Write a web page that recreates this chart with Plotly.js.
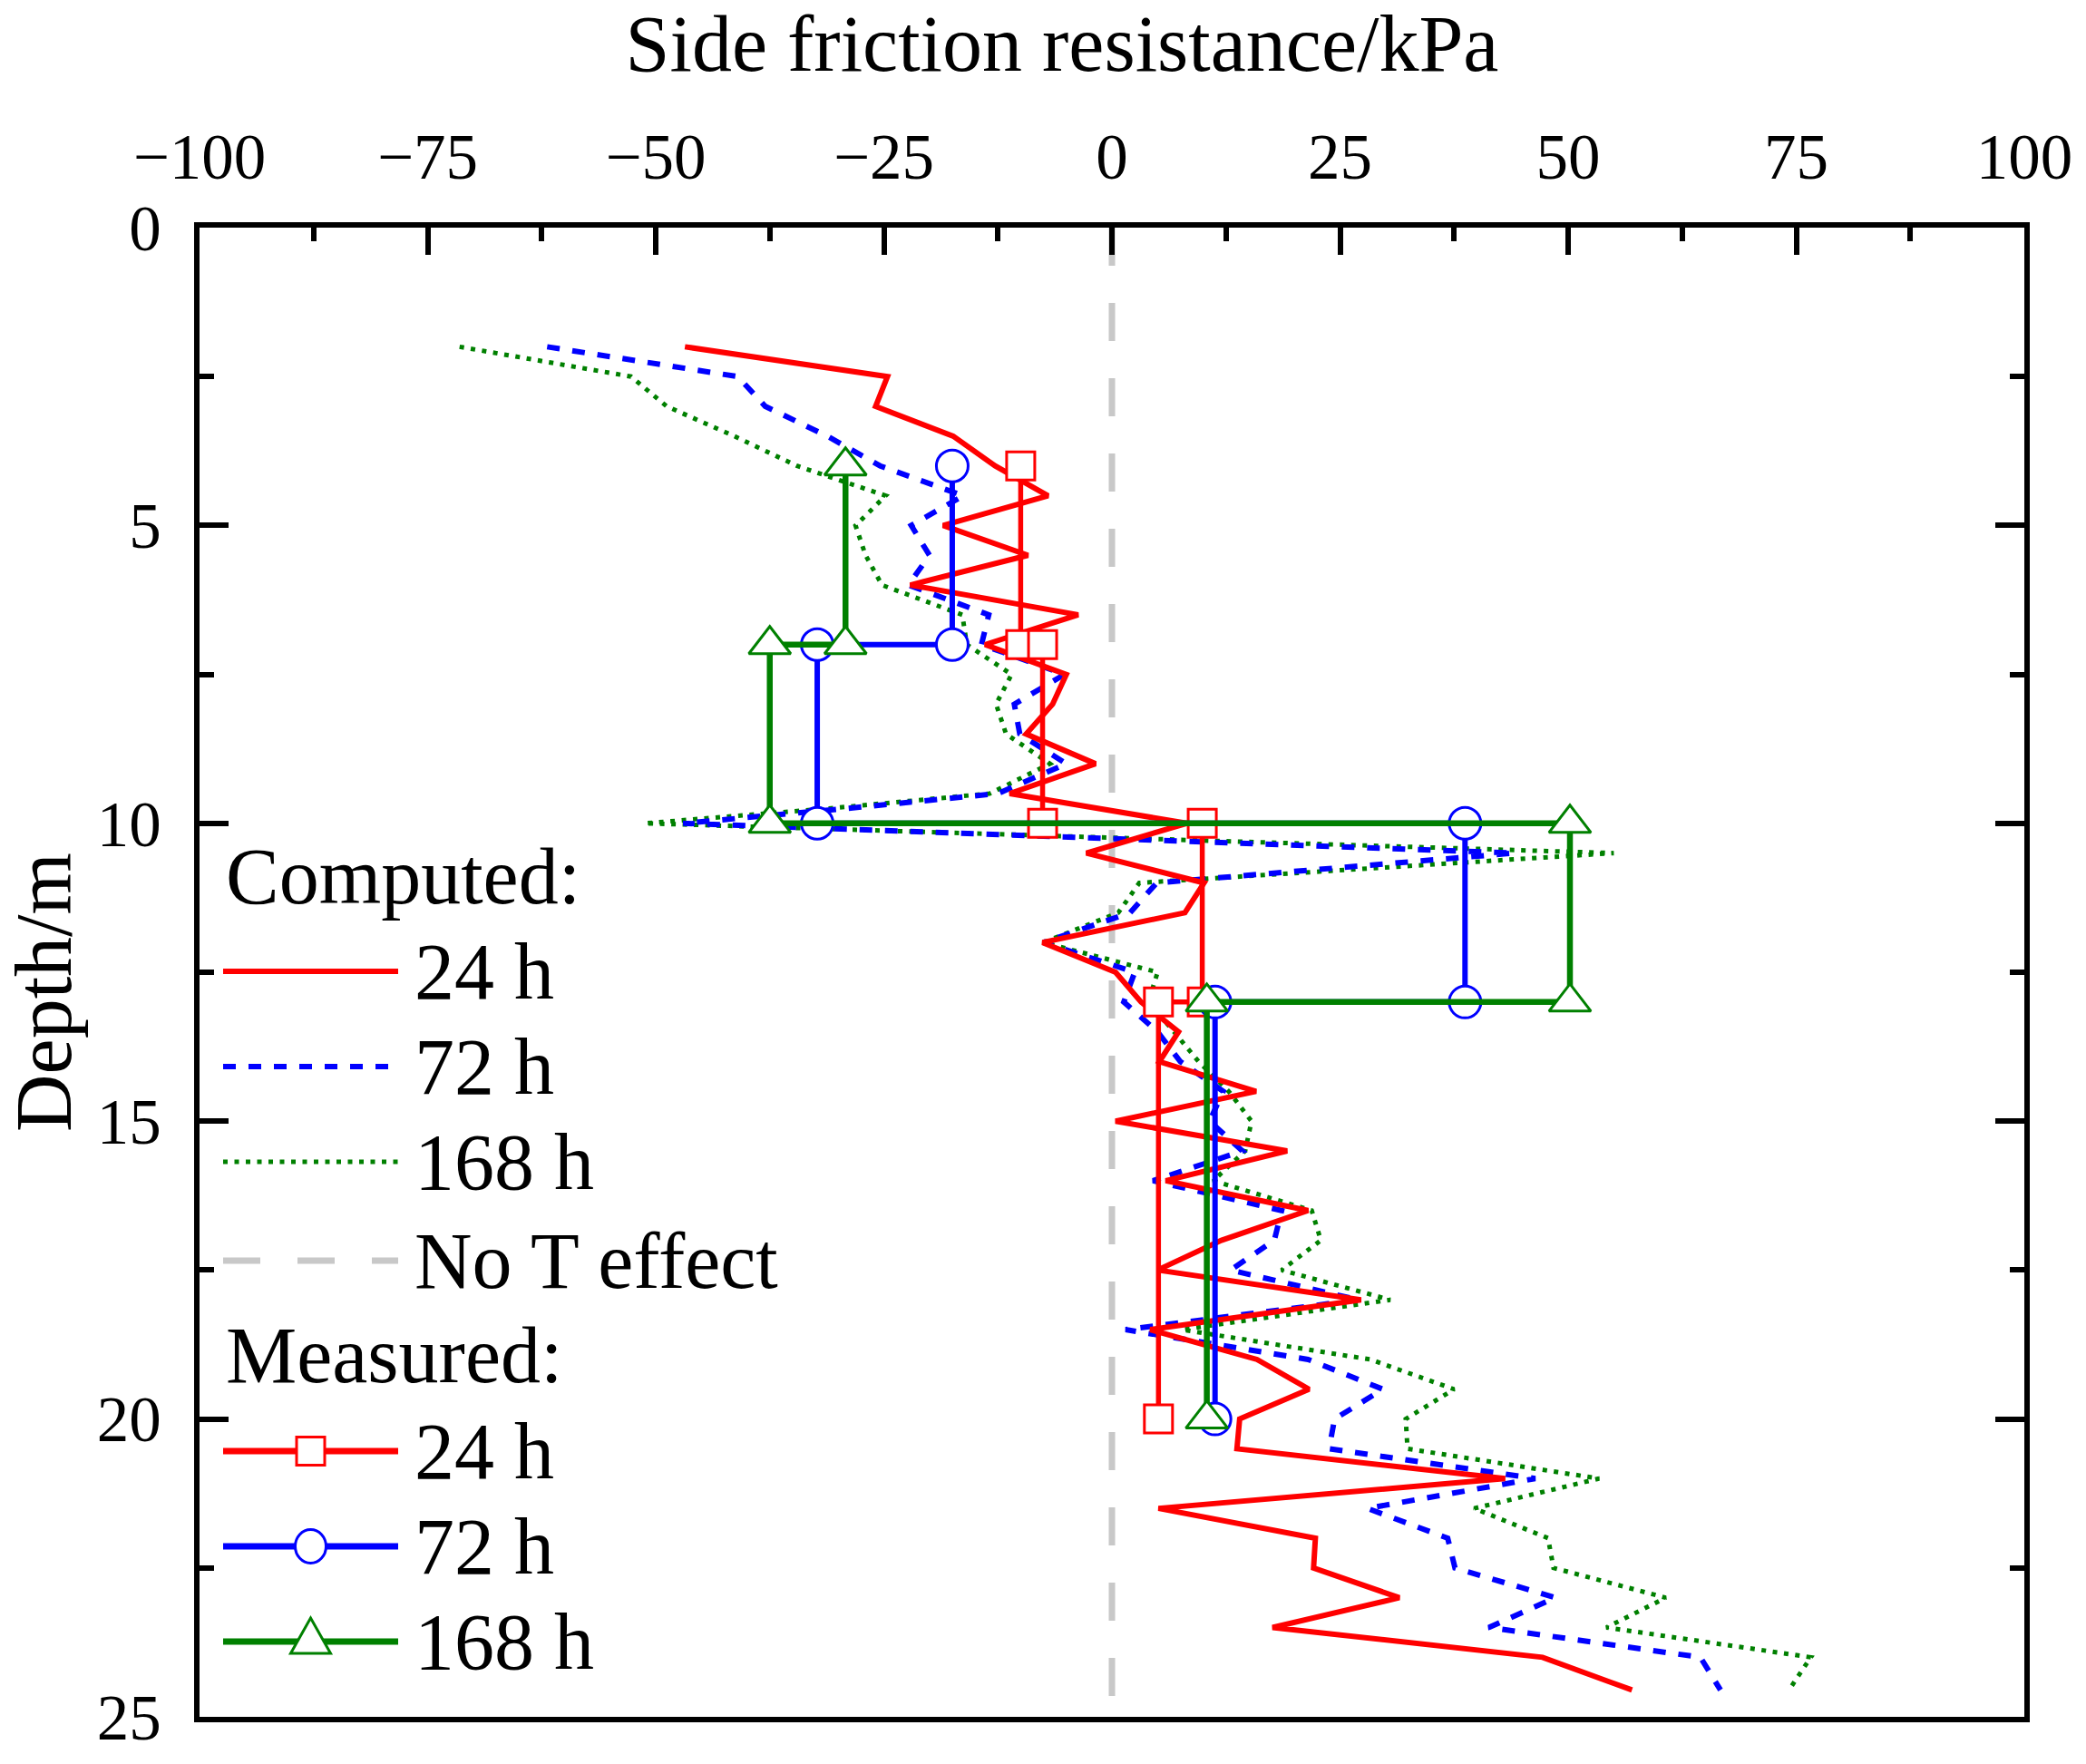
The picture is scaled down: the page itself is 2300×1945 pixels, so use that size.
<!DOCTYPE html>
<html>
<head>
<meta charset="utf-8">
<script src="https://cdn.plot.ly/plotly-3.0.1.min.js"></script>
<style>html,body{margin:0;padding:0;background:#fff;}</style>
</head>
<body>
<div id="chart" style="width:2300px;height:1945px;"></div>
<script>
// ---- Data ----
// Computed 24 h
var depthC24 = [2.0,2.5,3.0,3.5,4.0,4.5,5.0,5.5,6.0,6.5,7.0,7.5,8.0,8.5,9.0,9.5,10.0,10.5,11.0,11.5,12.0,12.5,13.0,13.5,14.0,14.5,15.0,15.5,16.0,16.5,17.0,17.5,18.0,18.5,19.0,19.5,20.0,20.5,21.0,21.5,22.0,22.5,23.0,23.5,24.0,24.55];
var comp24 = [-46.8,-24.6,-25.9,-17.4,-12.8,-7.0,-18.5,-9.2,-22.1,-3.7,-13.9,-5.0,-6.5,-9.4,-1.8,-11.2,8.2,-2.8,10.1,8.0,-7.6,0.4,3.2,7.3,5.2,15.8,0.4,19.2,5.9,21.5,12.0,5.0,27.3,4.2,15.9,21.6,14.0,13.7,43.1,5.1,22.3,22.1,31.5,17.6,47.2,57.0];
// Computed 72 h and 168 h
var depthC = [2.0,2.5,3.0,3.5,4.0,4.5,5.0,5.5,6.0,6.5,7.0,7.5,8.0,8.5,9.0,9.5,9.75,10.0,10.5,11.0,11.5,12.0,12.5,13.0,13.5,14.0,14.5,15.0,15.5,16.0,16.5,17.0,17.5,18.0,18.5,19.0,19.5,20.0,20.5,21.0,21.5,22.0,22.5,23.0,23.5,24.0,24.55];
var comp72 = [-61.9,-41.0,-38.0,-31.2,-25.4,-16.3,-22.0,-20.0,-22.3,-13.5,-14.3,-5.2,-10.7,-10.1,-5.0,-12.5,-29.0,-47.0,44.1,4.9,2.0,-7.5,2.5,1.3,5.0,7.5,12.2,10.7,14.3,4.5,18.6,17.8,13.0,27.0,1.5,21.5,29.7,24.4,23.8,46.4,28.0,36.8,37.6,48.6,41.3,64.5,66.7];
var comp168 = [-71.5,-52.7,-48.8,-41.4,-34.5,-24.8,-28.1,-27.0,-25.2,-16.4,-15.9,-11.0,-12.7,-11.6,-6.8,-13.4,-31.0,-51.2,55.0,3.0,0.7,-7.5,5.0,4.0,6.8,9.5,12.8,15.3,14.6,11.1,21.9,22.9,18.6,30.5,7.7,28.3,37.5,32.2,32.4,53.4,39.7,47.8,48.4,60.7,54.2,76.6,74.2];
// No temperature effect reference line
var noTx = [0, 0];
var noTy = [0, 25];
// Measured
var depthM = [4, 7, 7, 10, 10, 13, 13, 20];
var meas24 = [-10.0,-10.0,-7.6,-7.6,9.9,9.9,5.1,5.1];
var meas72 = [-17.5,-17.5,-32.3,-32.3,38.7,38.7,11.3,11.3];
var meas168 = [-29.2,-29.2,-37.5,-37.5,50.2,50.2,10.4,10.4];
// Axis ticks
var xTicks = [-100,-75,-50,-25,0,25,50,75,100];
var yTicks = [0,5,10,15,20,25];
// Legend labels
var legendHeads = ['Computed:', 'Measured:'];
var legendNames = ['24 h','72 h','168 h','No T effect','24 h','72 h','168 h'];

var FONT = 'Liberation Serif, Times New Roman, serif';
var RED = '#ff0000', BLUE = '#0000ff', GREEN = '#008000', GRAY = '#c8c8c8';

var traces = [
  {x: noTx, y: noTy, mode: 'lines', line: {color: GRAY, width: 7, dash: '42px,41px'}, showlegend: false, hoverinfo: 'skip'},
  {x: comp168, y: depthC, mode: 'lines', line: {color: GREEN, width: 5, dash: '5px,7.5px'}, showlegend: false},
  {x: comp72, y: depthC, mode: 'lines', line: {color: BLUE, width: 6, dash: '14px,14px'}, showlegend: false},
  {x: comp24, y: depthC24, mode: 'lines', line: {color: RED, width: 6}, showlegend: false},
  {x: meas24, y: depthM, mode: 'lines+markers', line: {color: RED, width: 5.5},
   marker: {symbol: 'square', size: 31, color: '#ffffff', line: {color: RED, width: 3}}, showlegend: false},
  {x: meas72, y: depthM, mode: 'lines+markers', line: {color: BLUE, width: 6},
   marker: {symbol: 'circle', size: 35, color: '#ffffff', line: {color: BLUE, width: 3}}, showlegend: false},
  {x: meas168, y: depthM, mode: 'lines+markers', line: {color: GREEN, width: 6.5},
   marker: {symbol: 'triangle-up', size: 40, color: '#ffffff', line: {color: GREEN, width: 3}}, showlegend: false}
];

// ---- Manual legend (pixel -> paper helpers) ----
var L = 220, R = 2232, T = 251, B = 1893;
function px(x) { return (x - L) / (R - L); }
function py(y) { return (B - y) / (B - T); }

var shapes = [], annotations = [];
var rowsY = [1071, 1176, 1281, 1390, 1600, 1705, 1810];
var rowStyle = [
  {color: RED, width: 6, dash: 'solid'},
  {color: BLUE, width: 6, dash: '14px,14px'},
  {color: GREEN, width: 5, dash: '5px,7.5px'},
  {color: GRAY, width: 7, dash: '41px,41px'},
  {color: RED, width: 7, dash: 'solid'},
  {color: BLUE, width: 7, dash: 'solid'},
  {color: GREEN, width: 7, dash: 'solid'}
];
var x1 = 246, x2 = 439, xc = 342.5, xt = 455;
annotations.push({xref: 'paper', yref: 'paper', x: px(247), y: py(967), xanchor: 'left', yanchor: 'middle',
  text: legendHeads[0], showarrow: false, font: {family: FONT, size: 88, color: '#000'}});
annotations.push({xref: 'paper', yref: 'paper', x: px(247), y: py(1494), xanchor: 'left', yanchor: 'middle',
  text: legendHeads[1], showarrow: false, font: {family: FONT, size: 88, color: '#000'}});
for (var i = 0; i < rowsY.length; i++) {
  var yy = rowsY[i];
  shapes.push({type: 'line', xref: 'paper', yref: 'paper', x0: px(x1), x1: px(x2), y0: py(yy), y1: py(yy),
    line: rowStyle[i], layer: 'above'});
  annotations.push({xref: 'paper', yref: 'paper', x: px(xt), y: py(yy), xanchor: 'left', yanchor: 'middle',
    text: legendNames[i], showarrow: false, font: {family: FONT, size: 88, color: '#000'}});
}
// legend markers
var ySq = rowsY[4], yCi = rowsY[5], yTr = rowsY[6];
shapes.push({type: 'rect', xref: 'paper', yref: 'paper', x0: px(xc - 15.5), x1: px(xc + 15.5), y0: py(ySq - 15.5), y1: py(ySq + 15.5),
  fillcolor: '#fff', line: {color: RED, width: 3}, layer: 'above'});
shapes.push({type: 'circle', xref: 'paper', yref: 'paper', x0: px(xc - 17), x1: px(xc + 17), y0: py(yCi - 18.5), y1: py(yCi + 18.5),
  fillcolor: '#fff', line: {color: BLUE, width: 3}, layer: 'above'});
shapes.push({type: 'path', xref: 'paper', yref: 'paper',
  path: 'M' + px(xc - 22) + ',' + py(yTr + 13) + ' L' + px(xc + 22) + ',' + py(yTr + 13) + ' L' + px(xc) + ',' + py(yTr - 26) + ' Z',
  fillcolor: '#fff', line: {color: GREEN, width: 3}, layer: 'above'});

var layout = {
  width: 2300, height: 1945,
  margin: {l: L, r: 2300 - R, t: T, b: 1945 - B, pad: 0},
  paper_bgcolor: '#fff', plot_bgcolor: '#fff',
  showlegend: false,
  font: {family: FONT, color: '#000'},
  xaxis: {
    side: 'top', range: [-100, 100], autorange: false,
    tickvals: xTicks, ticktext: xTicks.map(function(v){ return v < 0 ? '\u2212' + Math.abs(v) : String(v); }),
    ticks: 'inside', ticklen: 30, tickwidth: 6, tickcolor: '#000',
    minor: {dtick: 12.5, tick0: 0, ticks: 'inside', ticklen: 15, tickwidth: 6, tickcolor: '#000', showgrid: false},
    showline: true, linewidth: 6, linecolor: '#000', mirror: true,
    showgrid: false, zeroline: false,
    tickfont: {family: FONT, size: 71, color: '#000'},
    ticklabelstandoff: 20,
    title: {text: 'Side friction resistance/kPa\u00a0\u00a0\u00a0\u00a0\u00a0\u200b', font: {family: FONT, size: 88, color: '#000'}, standoff: 55}
  },
  yaxis: {
    range: [25, 0], autorange: false,
    tickvals: yTicks,
    ticks: 'inside', ticklen: 32, tickwidth: 6, tickcolor: '#000',
    minor: {dtick: 2.5, tick0: 0, ticks: 'inside', ticklen: 16, tickwidth: 6, tickcolor: '#000', showgrid: false},
    showline: true, linewidth: 6, linecolor: '#000', mirror: 'ticks',
    showgrid: false, zeroline: false,
    tickfont: {family: FONT, size: 71, color: '#000'},
    ticklabelstandoff: 22,
    title: {text: 'Depth/m\u00a0\u00a0\u200b', font: {family: FONT, size: 88, color: '#000'}, standoff: 13}
  },
  shapes: shapes,
  annotations: annotations
};

Plotly.newPlot('chart', traces, layout, {staticPlot: true, displayModeBar: false});
</script>
</body>
</html>
